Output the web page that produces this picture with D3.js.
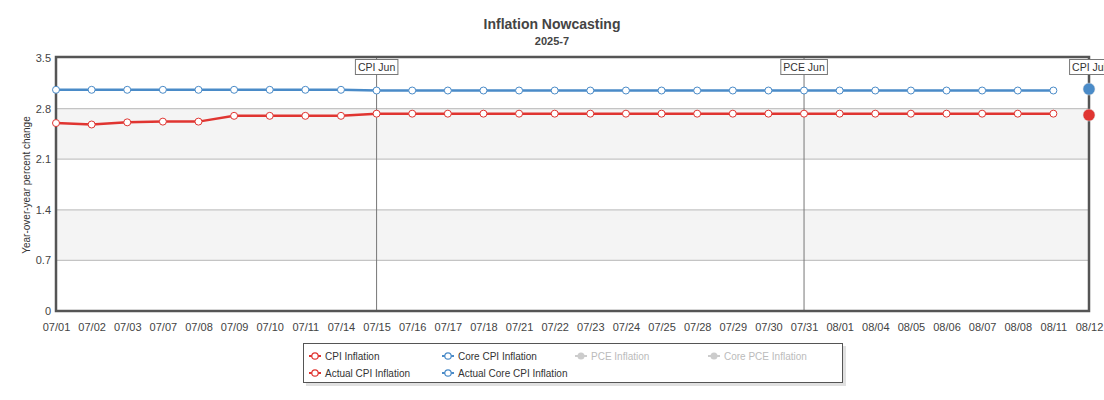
<!DOCTYPE html>
<html><head><meta charset="utf-8">
<script src="https://cdn.jsdelivr.net/npm/d3@7"></script>
<style>
html,body{margin:0;padding:0;background:#fff;}
svg{display:block;font-family:"Liberation Sans",Arial,sans-serif;}
</style></head>
<body><svg id="c" width="1104" height="400"></svg>
<script>
const dates = ["07/01","07/02","07/03","07/07","07/08","07/09","07/10","07/11","07/14","07/15","07/16","07/17","07/18","07/21","07/22","07/23","07/24","07/25","07/28","07/29","07/30","07/31","08/01","08/04","08/05","08/06","08/07","08/08","08/11","08/12"];
const cpiNowcast = [2.60,2.58,2.61,2.62,2.62,2.70,2.70,2.70,2.70,2.73,2.73,2.73,2.73,2.73,2.73,2.73,2.73,2.73,2.73,2.73,2.73,2.73,2.73,2.73,2.73,2.73,2.73,2.73,2.73,null];
const coreCpiNowcast = [3.06,3.06,3.06,3.06,3.06,3.06,3.06,3.06,3.06,3.05,3.05,3.05,3.05,3.05,3.05,3.05,3.05,3.05,3.05,3.05,3.05,3.05,3.05,3.05,3.05,3.05,3.05,3.05,3.05,null];
const actualCpi = [{date:"08/12", value:2.71}];
const actualCoreCpi = [{date:"08/12", value:3.07}];
const releases = [{date:"07/15", label:"CPI Jun"},{date:"07/31", label:"PCE Jun"},{date:"08/12", label:"CPI Jul"}];
const yTicks = [0,0.7,1.4,2.1,2.8,3.5];
const legendItems = [
  {label:"CPI Inflation", color:"#e03531", active:true},
  {label:"Core CPI Inflation", color:"#4a8bc8", active:true},
  {label:"PCE Inflation", color:"#cccccc", active:false},
  {label:"Core PCE Inflation", color:"#cccccc", active:false},
  {label:"Actual CPI Inflation", color:"#e03531", active:true},
  {label:"Actual Core CPI Inflation", color:"#4a8bc8", active:true}
];
const RED="#e03531", BLUE="#4a8bc8";

const svg = d3.select("#c");
const L=56, R=1089, T=58, B=311;
const x = d3.scalePoint().domain(dates).range([L,R]);
const y = d3.scaleLinear().domain([0,3.5]).range([B,T]);

// title
svg.append("text").attr("x",552).attr("y",29).attr("text-anchor","middle")
  .attr("font-size",14).attr("font-weight","bold").attr("fill","#444").text("Inflation Nowcasting");
svg.append("text").attr("x",552).attr("y",45).attr("text-anchor","middle")
  .attr("font-size",11).attr("font-weight","bold").attr("fill","#444").text("2025-7");

// bands
for(let i=0;i<yTicks.length-1;i++){
  const a=yTicks[i], b=yTicks[i+1];
  if(i%2===1){
    svg.append("rect").attr("x",L).attr("width",R-L).attr("y",y(b)).attr("height",y(a)-y(b)).attr("fill","#f4f4f4");
  }
}
// gridlines
svg.append("g").selectAll("line").data(yTicks.filter(t=>t>0&&t<3.5)).join("line")
  .attr("x1",L).attr("x2",R).attr("y1",d=>y(d)).attr("y2",d=>y(d))
  .attr("stroke","#c4c4c4").attr("stroke-width",1.2);

// y axis labels
const yAx = svg.append("g").attr("transform",`translate(${L},0)`)
  .call(d3.axisLeft(y).tickValues(yTicks).tickSize(0).tickPadding(5).tickFormat(d=>d===0?"0":d3.format(".1f")(d)));
yAx.select(".domain").remove();
yAx.selectAll("text").attr("font-size",11).attr("fill","#444").attr("font-family","Liberation Sans, Arial, sans-serif");

svg.append("text").attr("transform","translate(30,185) rotate(-90)").attr("text-anchor","middle")
  .attr("font-size",10).attr("fill","#333").text("Year-over-year percent change");

// x axis labels
const xAx = svg.append("g").attr("transform",`translate(0,${B})`)
  .call(d3.axisBottom(x).tickSize(0).tickPadding(12));
xAx.select(".domain").remove();
xAx.selectAll("text").attr("font-size",11).attr("fill","#444").attr("font-family","Liberation Sans, Arial, sans-serif");

// release lines
svg.append("g").selectAll("line").data(releases).join("line")
  .attr("x1",d=>x(d.date)).attr("x2",d=>x(d.date)).attr("y1",T).attr("y2",B)
  .attr("stroke","#777").attr("stroke-width",1);

// frame
svg.append("rect").attr("x",L).attr("y",T-1).attr("width",R-L).attr("height",B-T+1)
  .attr("fill","none").attr("stroke","#555").attr("stroke-width",2.5);

// lines
const line = d3.line().defined(d=>d.v!=null).x(d=>x(d.d)).y(d=>y(d.v));
const series = [{vals:cpiNowcast,color:RED},{vals:coreCpiNowcast,color:BLUE}];
series.forEach(s=>{
  const pts = dates.map((d,i)=>({d,v:s.vals[i]}));
  svg.append("path").datum(pts).attr("d",line).attr("fill","none").attr("stroke",s.color).attr("stroke-width",2.5);
  svg.append("g").selectAll("circle").data(pts.filter(p=>p.v!=null)).join("circle")
    .attr("cx",p=>x(p.d)).attr("cy",p=>y(p.v)).attr("r",3.5)
    .attr("fill","#fff").attr("stroke",s.color).attr("stroke-width",1);
});
// actual points
[{data:actualCpi,color:RED},{data:actualCoreCpi,color:BLUE}].forEach(s=>{
  svg.append("g").selectAll("circle").data(s.data).join("circle")
    .attr("cx",d=>x(d.date)).attr("cy",d=>y(d.value)).attr("r",6)
    .attr("fill",s.color).attr("stroke","#ddd").attr("stroke-width",0.5);
});

// release labels
releases.forEach(r=>{
  const cx = x(r.date);
  const g = svg.append("g");
  const t = g.append("text").attr("x",cx).attr("y",71).attr("text-anchor","middle")
    .attr("font-size",10.5).attr("fill","#333").text(r.label);
  const bb = t.node().getBBox();
  g.insert("rect","text").attr("x",bb.x-2.5).attr("y",59.5).attr("width",bb.width+5).attr("height",15)
    .attr("fill","#fff").attr("stroke","#777").attr("stroke-width",1);
});

// legend
const lg = svg.append("g");
lg.append("rect").attr("x",306).attr("y",346).attr("width",540).attr("height",40).attr("fill","#ccc").attr("opacity",0.6);
lg.append("rect").attr("x",303.5).attr("y",343.5).attr("width",539).attr("height",39).attr("fill","#fff").attr("stroke","#555").attr("stroke-width",1);
const colX=[309,442,575,708];
legendItems.forEach((it,i)=>{
  const cx = colX[i%4], cy = i<4?356:373;
  const g = lg.append("g");
  g.append("line").attr("x1",cx).attr("x2",cx+12).attr("y1",cy).attr("y2",cy).attr("stroke",it.color).attr("stroke-width",2);
  if(it.active){
    g.append("circle").attr("cx",cx+6).attr("cy",cy).attr("r",3.2).attr("fill","#fff").attr("stroke",it.color).attr("stroke-width",1.2);
  } else {
    g.append("circle").attr("cx",cx+6).attr("cy",cy).attr("r",3.5).attr("fill",it.color);
  }
  g.append("text").attr("x",cx+16).attr("y",cy+3.5).attr("font-size",10)
    .attr("fill",it.active?"#333":"#bbb").text(it.label);
});
</script></body></html>
